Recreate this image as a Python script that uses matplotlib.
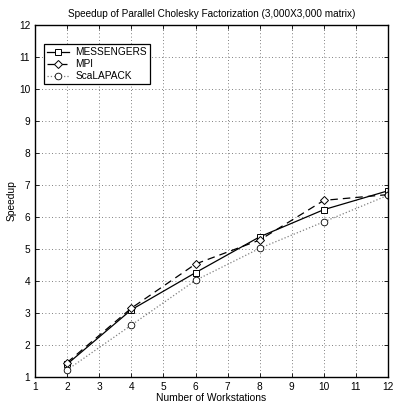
import matplotlib
matplotlib.use('Agg')
import matplotlib.pyplot as plt

# data
workstations = [2, 4, 6, 8, 10, 12]
messengers = [1.40, 3.10, 4.26, 5.38, 6.23, 6.82]
mpi = [1.45, 3.15, 4.53, 5.28, 6.52, 6.70]
scalapack = [1.22, 2.62, 4.02, 5.02, 5.85, 6.68]

plt.rcParams['font.family'] = 'Liberation Sans'

fig = plt.figure(figsize=(3.94, 4.04), dpi=100)
ax = fig.add_axes([0.089, 0.067, 0.896, 0.871])

ax.plot(workstations, messengers, '-', color='black', lw=0.9,
        marker='s', ms=4.2, mfc='white', mec='black', mew=0.7, label='MESSENGERS')
ax.plot(workstations, mpi, '--', color='black', lw=0.9, dashes=(6, 4),
        marker='D', ms=4.2, mfc='white', mec='black', mew=0.7, label='MPI')
ax.plot(workstations, scalapack, ':', color='gray', lw=0.9,
        marker='o', ms=4.8, mfc='white', mec='black', mew=0.6, label='ScaLAPACK')

ax.set_xlim(1, 12)
ax.set_ylim(1, 12)
ax.set_xticks(range(1, 13))
ax.set_yticks(range(1, 13))
ax.tick_params(direction='in', labelsize=7.3, length=3, width=0.6, top=True, right=True)
ax.grid(True, linestyle=(0, (1, 3)), color='#555555', lw=0.6)
for s in ax.spines.values():
    s.set_linewidth(1.0)

ax.set_xlabel('Number of Workstations', fontsize=7.4, labelpad=1)
ax.set_ylabel('Speedup', fontsize=7.4, labelpad=2)
ax.set_title('Speedup of Parallel Cholesky Factorization (3,000X3,000 matrix)',
             fontsize=7.2, pad=6)

leg = ax.legend(loc='upper left', bbox_to_anchor=(0.01, 0.96), fontsize=7.3,
                fancybox=False, edgecolor='black', framealpha=1,
                handlelength=2.2, borderpad=0.3, labelspacing=0.2, handletextpad=0.6)
leg.get_frame().set_linewidth(0.9)

fig.savefig('out.png', dpi=100)
